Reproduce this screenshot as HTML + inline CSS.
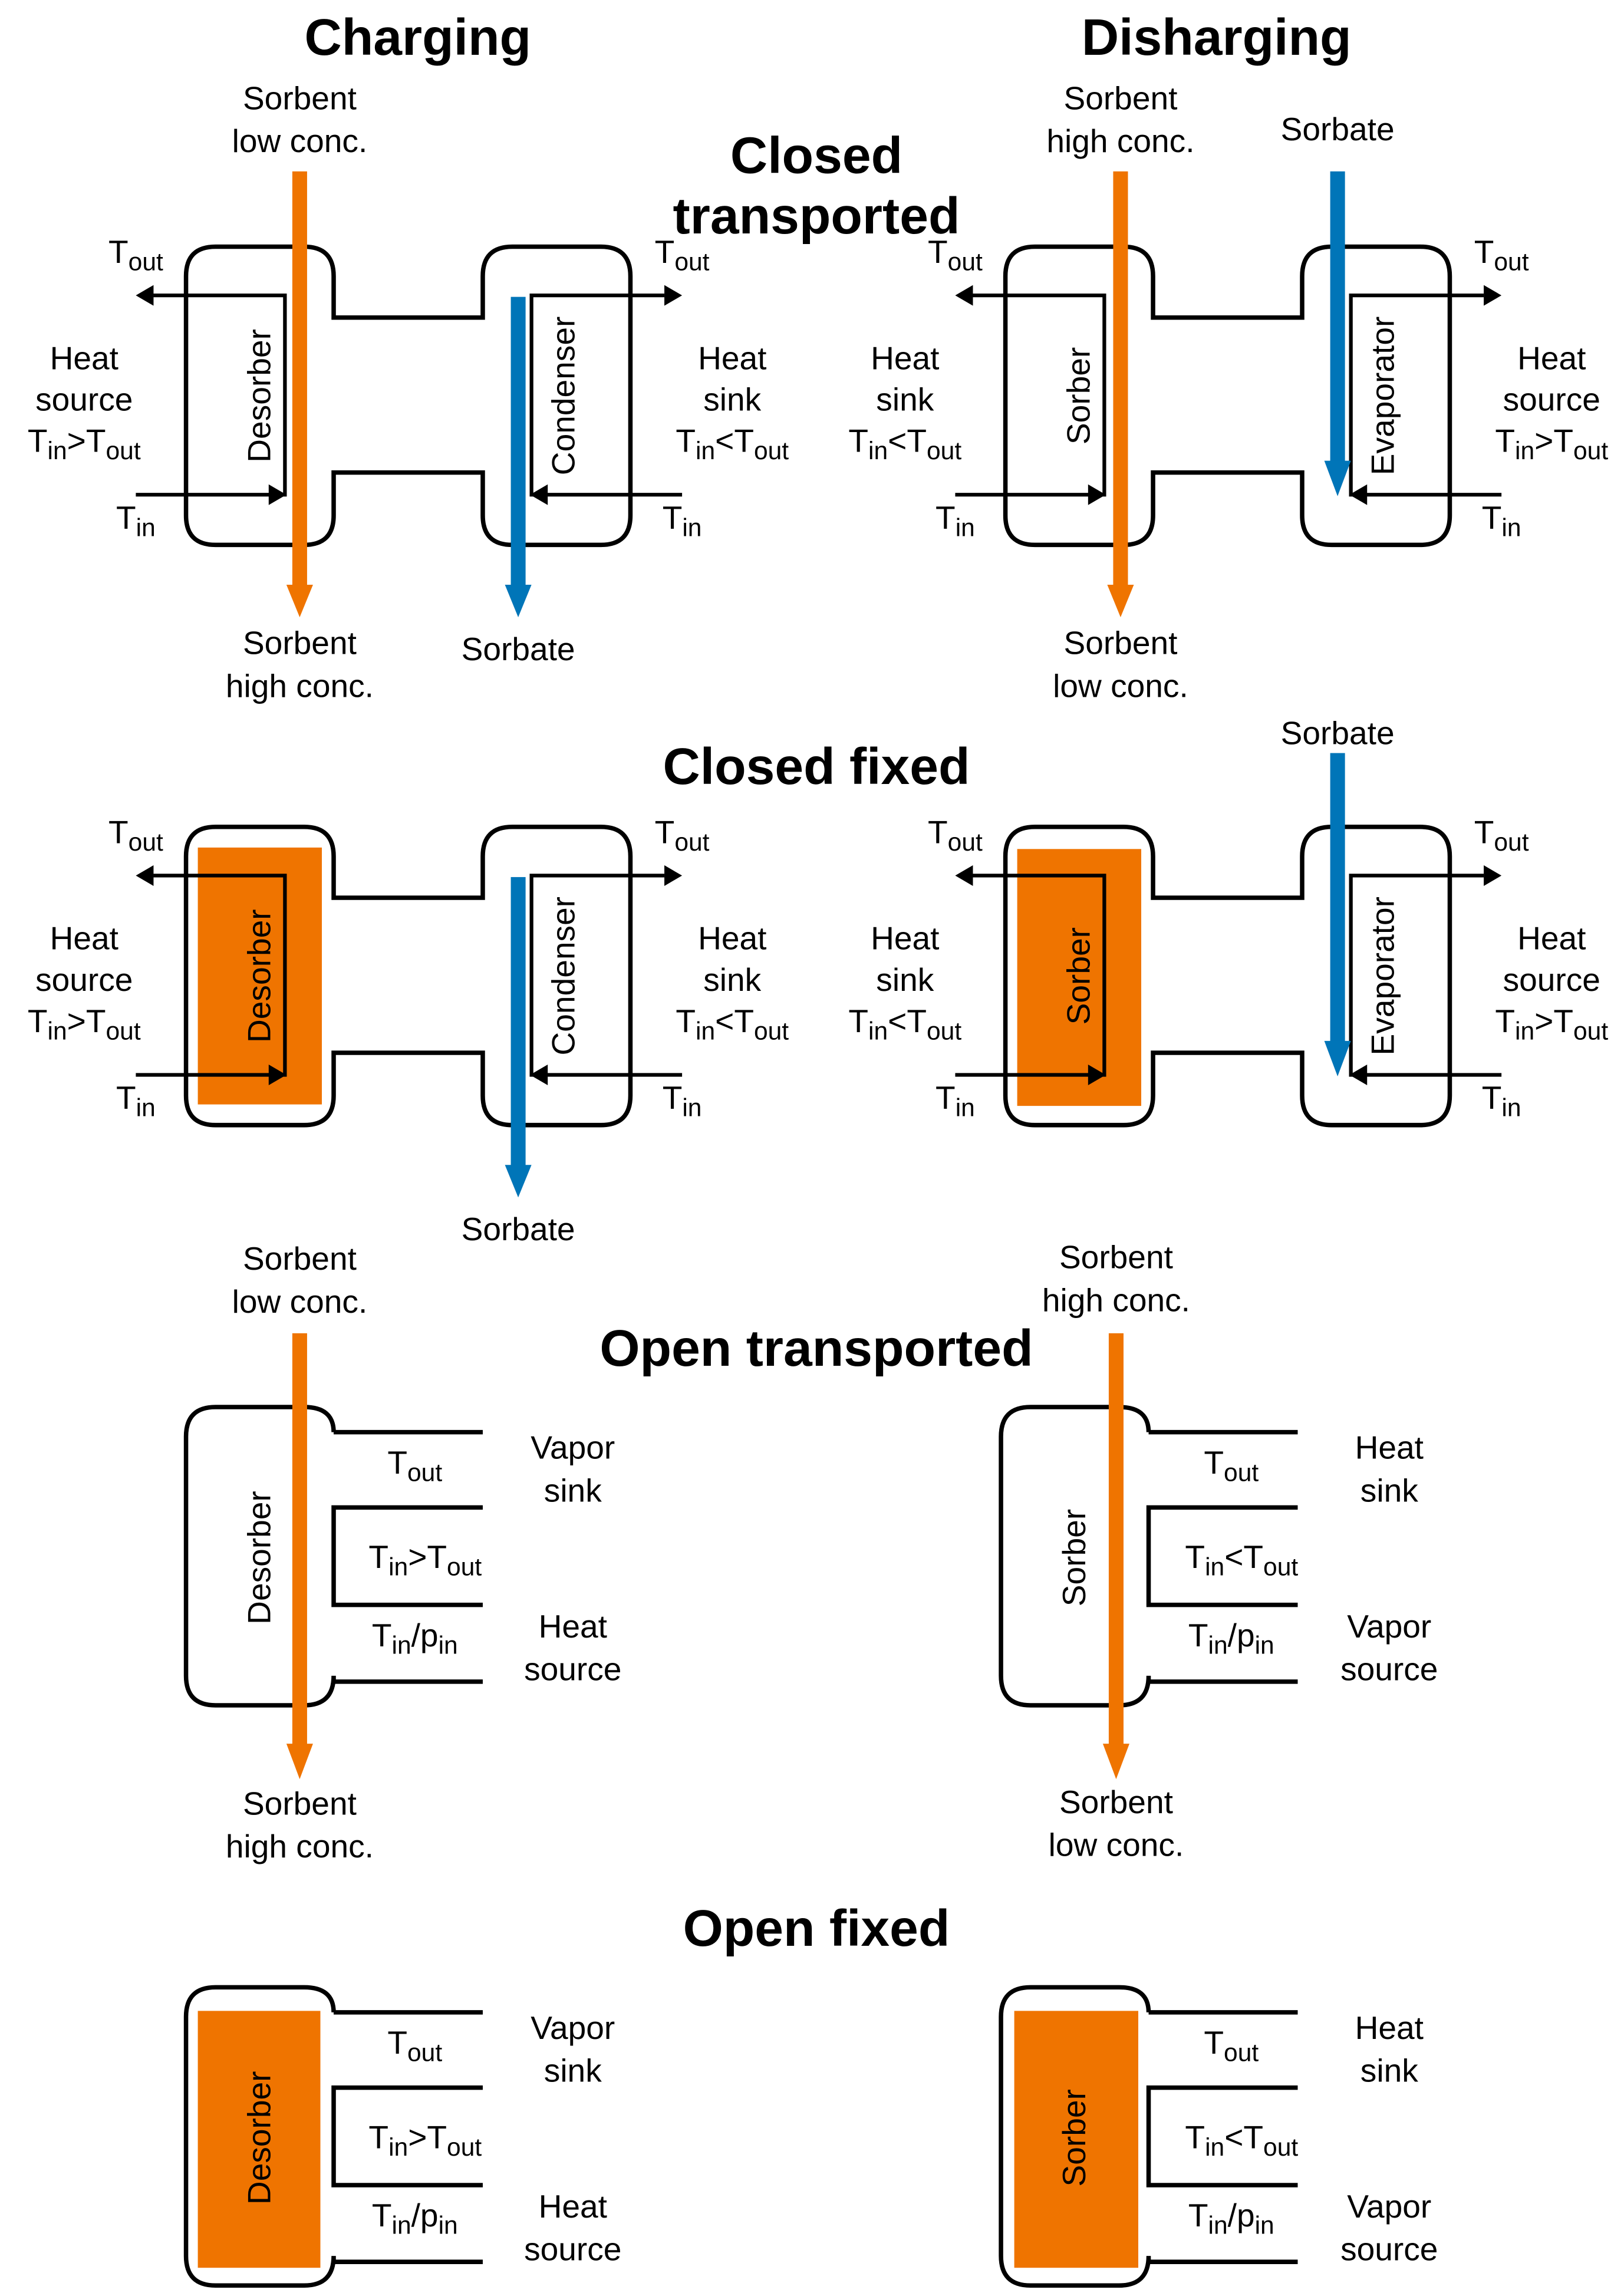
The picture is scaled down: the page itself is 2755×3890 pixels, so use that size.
<!DOCTYPE html>
<html><head><meta charset="utf-8"><style>
html,body{margin:0;padding:0;background:#fff;}
svg{display:block;}
text{font-family:"Liberation Sans",Arial,sans-serif;font-size:22px;fill:#000;}
.t{font-size:35px;font-weight:bold;text-anchor:middle;}
.c{text-anchor:middle;}
.s{font-size:17px;}
</style></head><body>
<svg width="2755" height="3890" viewBox="0 0 1100 1553" xmlns="http://www.w3.org/2000/svg">
<defs>
<path id="cv" d="M146,167 H206 Q226,167 226,187 V215 H327 V187 Q327,167 347,167 H407 Q427,167 427,187 V349 Q427,369 407,369 H347 Q327,369 327,349 V320 H226 V349 Q226,369 206,369 H146 Q126,369 126,349 V187 Q126,167 146,167 Z" fill="none" stroke="#000" stroke-width="3"/>
<g id="ha">
<path d="M104,200 H193 V335 H92" fill="none" stroke="#000" stroke-width="2.5"/>
<polygon points="92,200 104,193 104,207" fill="#000"/>
<polygon points="194,335 182,328 182,342" fill="#000"/>
<path d="M450,200 H360 V335 H462" fill="none" stroke="#000" stroke-width="2.5"/>
<polygon points="462,200 450,193 450,207" fill="#000"/>
<polygon points="359,335 371,328 371,342" fill="#000"/>
</g>
<path id="ov" d="M226,970 H327 M327,1021 H226 V1087 H327 M327,1139 H226 V1135 Q226,1155 206,1155 H146 Q126,1155 126,1135 V973 Q126,953 146,953 H206 Q226,953 226,970" fill="none" stroke="#000" stroke-width="3"/>
</defs>

<text class="t" x="283" y="37">Charging</text>
<text class="t" x="824" y="37">Disharging</text>
<text class="t" x="553" y="117">Closed</text>
<text class="t" x="553" y="158">transported</text>
<text class="t" x="553" y="531">Closed fixed</text>
<text class="t" x="553" y="925">Open transported</text>
<text class="t" x="553" y="1318">Open fixed</text>

<!-- ===== Closed transported charging ===== -->
<use href="#cv"/>
<use href="#ha"/>
<rect x="198" y="116" width="10" height="282" fill="#EF7400"/>
<polygon points="194,396 212,396 203,418" fill="#EF7400"/>
<rect x="346" y="201" width="10" height="197" fill="#0075B8"/>
<polygon points="342,396 360,396 351,418" fill="#0075B8"/>
<text class="c" transform="translate(183,268) rotate(-90)">Desorber</text>
<text class="c" transform="translate(389,268) rotate(-90)">Condenser</text>
<text class="c" x="203" y="74">Sorbent</text>
<text class="c" x="203" y="103">low conc.</text>
<text class="c" x="203" y="443">Sorbent</text>
<text class="c" x="203" y="472">high conc.</text>
<text class="c" x="351" y="447">Sorbate</text>
<text class="c" x="92" y="178">T<tspan class="s" dy="5">out</tspan></text>
<text class="c" x="92" y="358">T<tspan class="s" dy="5">in</tspan></text>
<text class="c" x="462" y="178">T<tspan class="s" dy="5">out</tspan></text>
<text class="c" x="462" y="358">T<tspan class="s" dy="5">in</tspan></text>
<text class="c" x="57" y="250">Heat</text>
<text class="c" x="57" y="278">source</text>
<text class="c" x="57" y="306">T<tspan class="s" dy="5">in</tspan><tspan dy="-5">&gt;T</tspan><tspan class="s" dy="5">out</tspan></text>
<text class="c" x="496" y="250">Heat</text>
<text class="c" x="496" y="278">sink</text>
<text class="c" x="496" y="306">T<tspan class="s" dy="5">in</tspan><tspan dy="-5">&lt;T</tspan><tspan class="s" dy="5">out</tspan></text>

<!-- ===== Closed transported discharging ===== -->
<g transform="translate(555,0)"><use href="#cv"/><use href="#ha"/></g>
<rect x="754" y="116" width="10" height="282" fill="#EF7400"/>
<polygon points="750,396 768,396 759,418" fill="#EF7400"/>
<rect x="901" y="116" width="10" height="198" fill="#0075B8"/>
<polygon points="897,312 915,312 906,336" fill="#0075B8"/>
<text class="c" transform="translate(738,268) rotate(-90)">Sorber</text>
<text class="c" transform="translate(944,268) rotate(-90)">Evaporator</text>
<text class="c" x="759" y="74">Sorbent</text>
<text class="c" x="759" y="103">high conc.</text>
<text class="c" x="759" y="443">Sorbent</text>
<text class="c" x="759" y="472">low conc.</text>
<text class="c" x="906" y="95">Sorbate</text>
<text class="c" x="647" y="178">T<tspan class="s" dy="5">out</tspan></text>
<text class="c" x="647" y="358">T<tspan class="s" dy="5">in</tspan></text>
<text class="c" x="1017" y="178">T<tspan class="s" dy="5">out</tspan></text>
<text class="c" x="1017" y="358">T<tspan class="s" dy="5">in</tspan></text>
<text class="c" x="613" y="250">Heat</text>
<text class="c" x="613" y="278">sink</text>
<text class="c" x="613" y="306">T<tspan class="s" dy="5">in</tspan><tspan dy="-5">&lt;T</tspan><tspan class="s" dy="5">out</tspan></text>
<text class="c" x="1051" y="250">Heat</text>
<text class="c" x="1051" y="278">source</text>
<text class="c" x="1051" y="306">T<tspan class="s" dy="5">in</tspan><tspan dy="-5">&gt;T</tspan><tspan class="s" dy="5">out</tspan></text>

<!-- ===== Closed fixed charging ===== -->
<g transform="translate(0,393)">
<rect x="134" y="181" width="84" height="174" fill="#EF7400"/>
<use href="#cv"/><use href="#ha"/>
<rect x="346" y="201" width="10" height="197" fill="#0075B8"/>
<polygon points="342,396 360,396 351,418" fill="#0075B8"/>
<text class="c" transform="translate(183,268) rotate(-90)">Desorber</text>
<text class="c" transform="translate(389,268) rotate(-90)">Condenser</text>
<text class="c" x="351" y="447">Sorbate</text>
<text class="c" x="92" y="178">T<tspan class="s" dy="5">out</tspan></text>
<text class="c" x="92" y="358">T<tspan class="s" dy="5">in</tspan></text>
<text class="c" x="462" y="178">T<tspan class="s" dy="5">out</tspan></text>
<text class="c" x="462" y="358">T<tspan class="s" dy="5">in</tspan></text>
<text class="c" x="57" y="250">Heat</text>
<text class="c" x="57" y="278">source</text>
<text class="c" x="57" y="306">T<tspan class="s" dy="5">in</tspan><tspan dy="-5">&gt;T</tspan><tspan class="s" dy="5">out</tspan></text>
<text class="c" x="496" y="250">Heat</text>
<text class="c" x="496" y="278">sink</text>
<text class="c" x="496" y="306">T<tspan class="s" dy="5">in</tspan><tspan dy="-5">&lt;T</tspan><tspan class="s" dy="5">out</tspan></text>
</g>

<!-- ===== Closed fixed discharging ===== -->
<g transform="translate(0,393)">
<rect x="689" y="182" width="84" height="174" fill="#EF7400"/>
<g transform="translate(555,0)"><use href="#cv"/><use href="#ha"/></g>
<rect x="901" y="117" width="10" height="197" fill="#0075B8"/>
<polygon points="897,312 915,312 906,336" fill="#0075B8"/>
<text class="c" transform="translate(738,268) rotate(-90)">Sorber</text>
<text class="c" transform="translate(944,268) rotate(-90)">Evaporator</text>
<text class="c" x="906" y="111">Sorbate</text>
<text class="c" x="647" y="178">T<tspan class="s" dy="5">out</tspan></text>
<text class="c" x="647" y="358">T<tspan class="s" dy="5">in</tspan></text>
<text class="c" x="1017" y="178">T<tspan class="s" dy="5">out</tspan></text>
<text class="c" x="1017" y="358">T<tspan class="s" dy="5">in</tspan></text>
<text class="c" x="613" y="250">Heat</text>
<text class="c" x="613" y="278">sink</text>
<text class="c" x="613" y="306">T<tspan class="s" dy="5">in</tspan><tspan dy="-5">&lt;T</tspan><tspan class="s" dy="5">out</tspan></text>
<text class="c" x="1051" y="250">Heat</text>
<text class="c" x="1051" y="278">source</text>
<text class="c" x="1051" y="306">T<tspan class="s" dy="5">in</tspan><tspan dy="-5">&gt;T</tspan><tspan class="s" dy="5">out</tspan></text>
</g>

<!-- ===== Open transported charging ===== -->
<use href="#ov"/>
<rect x="198" y="903" width="10" height="280" fill="#EF7400"/>
<polygon points="194,1181 212,1181 203,1205" fill="#EF7400"/>
<text class="c" transform="translate(183,1055) rotate(-90)">Desorber</text>
<text class="c" x="203" y="860">Sorbent</text>
<text class="c" x="203" y="889">low conc.</text>
<text class="c" x="203" y="1229">Sorbent</text>
<text class="c" x="203" y="1258">high conc.</text>
<text class="c" x="281" y="998">T<tspan class="s" dy="5">out</tspan></text>
<text class="c" x="288" y="1062">T<tspan class="s" dy="5">in</tspan><tspan dy="-5">&gt;T</tspan><tspan class="s" dy="5">out</tspan></text>
<text class="c" x="281" y="1115">T<tspan class="s" dy="5">in</tspan><tspan dy="-5">/p</tspan><tspan class="s" dy="5">in</tspan></text>
<text class="c" x="388" y="988">Vapor</text>
<text class="c" x="388" y="1017">sink</text>
<text class="c" x="388" y="1109">Heat</text>
<text class="c" x="388" y="1138">source</text>

<!-- ===== Open transported discharging ===== -->
<g transform="translate(552,0)"><use href="#ov"/></g>
<rect x="751" y="903" width="10" height="280" fill="#EF7400"/>
<polygon points="747,1181 765,1181 756,1205" fill="#EF7400"/>
<text class="c" transform="translate(735,1055) rotate(-90)">Sorber</text>
<text class="c" x="756" y="859">Sorbent</text>
<text class="c" x="756" y="888">high conc.</text>
<text class="c" x="756" y="1228">Sorbent</text>
<text class="c" x="756" y="1257">low conc.</text>
<text class="c" x="834" y="998">T<tspan class="s" dy="5">out</tspan></text>
<text class="c" x="841" y="1062">T<tspan class="s" dy="5">in</tspan><tspan dy="-5">&lt;T</tspan><tspan class="s" dy="5">out</tspan></text>
<text class="c" x="834" y="1115">T<tspan class="s" dy="5">in</tspan><tspan dy="-5">/p</tspan><tspan class="s" dy="5">in</tspan></text>
<text class="c" x="941" y="988">Heat</text>
<text class="c" x="941" y="1017">sink</text>
<text class="c" x="941" y="1109">Vapor</text>
<text class="c" x="941" y="1138">source</text>

<!-- ===== Open fixed ===== -->
<g transform="translate(0,393)">
<rect x="134" y="969" width="83" height="174" fill="#EF7400"/>
<use href="#ov"/>
<text class="c" transform="translate(183,1055) rotate(-90)">Desorber</text>
<text class="c" x="281" y="998">T<tspan class="s" dy="5">out</tspan></text>
<text class="c" x="288" y="1062">T<tspan class="s" dy="5">in</tspan><tspan dy="-5">&gt;T</tspan><tspan class="s" dy="5">out</tspan></text>
<text class="c" x="281" y="1115">T<tspan class="s" dy="5">in</tspan><tspan dy="-5">/p</tspan><tspan class="s" dy="5">in</tspan></text>
<text class="c" x="388" y="988">Vapor</text>
<text class="c" x="388" y="1017">sink</text>
<text class="c" x="388" y="1109">Heat</text>
<text class="c" x="388" y="1138">source</text>

<rect x="687" y="969" width="84" height="174" fill="#EF7400"/>
<g transform="translate(552,0)"><use href="#ov"/></g>
<text class="c" transform="translate(735,1055) rotate(-90)">Sorber</text>
<text class="c" x="834" y="998">T<tspan class="s" dy="5">out</tspan></text>
<text class="c" x="841" y="1062">T<tspan class="s" dy="5">in</tspan><tspan dy="-5">&lt;T</tspan><tspan class="s" dy="5">out</tspan></text>
<text class="c" x="834" y="1115">T<tspan class="s" dy="5">in</tspan><tspan dy="-5">/p</tspan><tspan class="s" dy="5">in</tspan></text>
<text class="c" x="941" y="988">Heat</text>
<text class="c" x="941" y="1017">sink</text>
<text class="c" x="941" y="1109">Vapor</text>
<text class="c" x="941" y="1138">source</text>
</g>
</svg>
</body></html>
